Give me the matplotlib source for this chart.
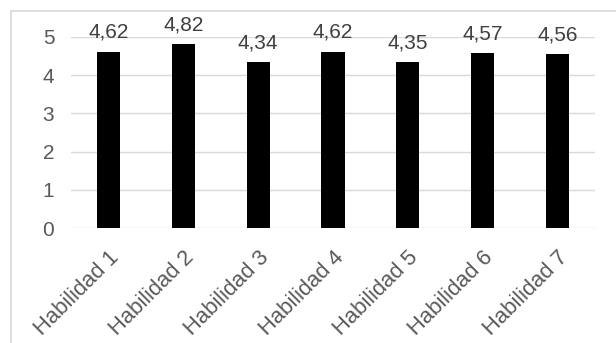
import matplotlib
matplotlib.use('Agg')
import matplotlib.pyplot as plt
from matplotlib.patches import Rectangle

# datos
categorias = ['Habilidad 1', 'Habilidad 2', 'Habilidad 3', 'Habilidad 4',
              'Habilidad 5', 'Habilidad 6', 'Habilidad 7']
valores = [4.62, 4.82, 4.34, 4.62, 4.35, 4.57, 4.56]
ticks_y = [0, 1, 2, 3, 4, 5]

plt.rcParams['font.family'] = ['Liberation Sans', 'DejaVu Sans']
fs = 15

fig = plt.figure(figsize=(6.16, 3.43), dpi=100)
ax = fig.add_axes([71 / 616, 1 - 228 / 343, (595 - 71) / 616, (228 - 37) / 343])

# borde del grafico (recortado a la derecha y abajo)
fig.patches.append(Rectangle((11 / 616, -0.1), 1.2, 1.1 - 11 / 343,
                             transform=fig.transFigure, fill=False,
                             edgecolor='#d9d9d9', linewidth=1.2))

x = list(range(len(categorias)))
ax.bar(x, valores, width=0.31, color='black', zorder=3)

for xi, v in zip(x, valores):
    ax.annotate(f'{v:.2f}'.replace('.', ','), (xi, v), xytext=(0, 7),
                textcoords='offset points', ha='center', va='bottom',
                fontsize=fs, color='#404040', annotation_clip=False)

ax.set_xlim(-0.5, len(categorias) - 0.5)
ax.set_ylim(0, 5)
ax.set_yticks(ticks_y)
ax.yaxis.grid(True, color='#d9d9d9', linewidth=1, zorder=0)
ax.set_axisbelow(True)
for s in ax.spines.values():
    s.set_visible(False)

ax.tick_params(axis='y', length=0, pad=12, labelsize=fs, labelcolor='#595959')
ax.tick_params(axis='x', length=0, pad=14, labelsize=15.8, labelcolor='#595959')
ax.set_xticks(x)
ax.set_xticklabels(categorias, rotation=45, ha='right', rotation_mode='anchor')

plt.savefig('out.png', dpi=100)
plt.close()
